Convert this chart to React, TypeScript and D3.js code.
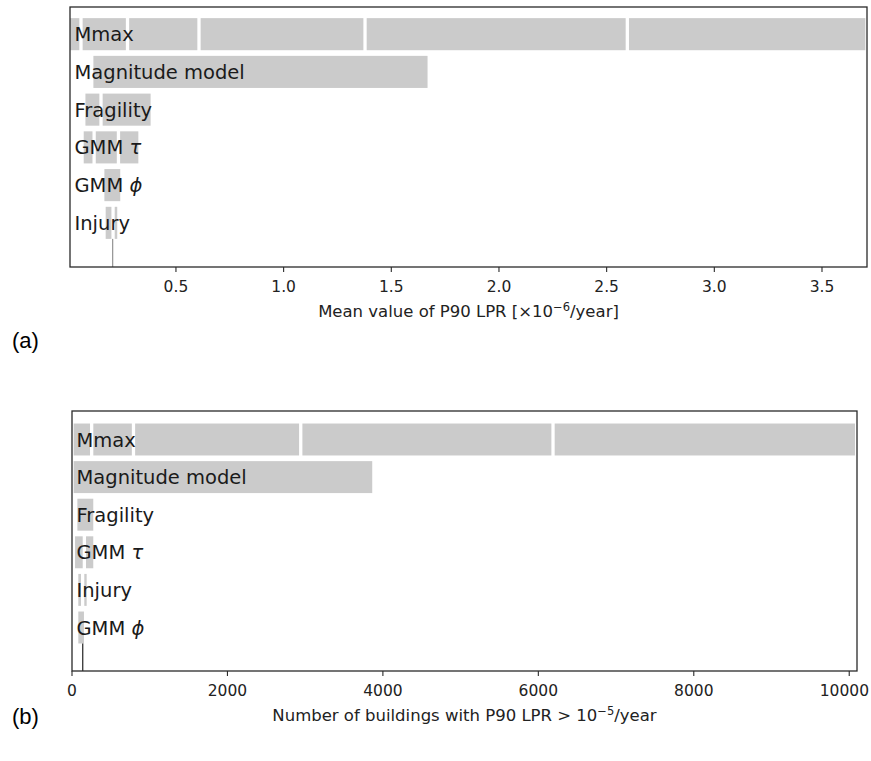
import React from "react";
import * as d3 from "d3";

// ---------- Data ----------
const rowsA = ["Mmax", "Magnitude model", "Fragility", "GMM τ", "GMM φ", "Injury"];
const segmentsA: number[][] = [
  [0.0, 0.059, 0.275, 0.607, 1.378, 2.596, 3.709],
  [0.109, 1.676],
  [0.072, 0.152, 0.39],
  [0.064, 0.12, 0.233, 0.333],
  [0.16, 0.249],
  [0.166, 0.208, 0.235],
];
const baselineA = 0.206;
const ticksA = [0.5, 1.0, 1.5, 2.0, 2.5, 3.0, 3.5];
const xDomainA = [0.008, 3.709];

const rowsB = ["Mmax", "Magnitude model", "Fragility", "GMM τ", "Injury", "GMM φ"];
const segmentsB: number[][] = [
  [0, 253, 791, 2943, 6189, 10095],
  [0, 3884],
  [48, 295],
  [18, 159, 295],
  [60, 137, 210],
  [60, 175],
];
const baselineB = 138;
const ticksB = [0, 2000, 4000, 6000, 8000, 10000];
const xDomainB = [0, 10100];

// ---------- Styling ----------
const FONT = "'DejaVu Sans', sans-serif";
const BAR = "#cbcbcb";
const GAP = 1.65;
const TICK_FS = 15.5;

type PanelProps = {
  id: string;
  rows: string[];
  segments: number[][];
  baseline: number;
  ticks: number[];
  xDomain: number[];
  left: number;
  right: number;
  top: number;
  bottom: number;
  yDomain: [number, number];
  tickFmt: (v: number) => string;
  title: React.ReactNode;
  lineColor: string;
};

function Label({ name, x, y }: { name: string; x: number; y: number }) {
  const greek = /[τφ]$/.test(name);
  const base = greek ? name.slice(0, -1) : name;
  const g = greek ? name.slice(-1) : "";
  const gChar = g === "φ" ? "ϕ" : g;
  return (
    <text x={x} y={y} dy="0.36em" fontFamily={FONT} fontSize={19.5} fill="#1a1a1a">
      {base}
      {greek && <tspan fontStyle="italic">{gChar}</tspan>}
    </text>
  );
}

function Panel(p: PanelProps) {
  const x = d3.scaleLinear().domain(p.xDomain).range([p.left, p.right]);
  const y = d3.scaleLinear().domain(p.yDomain).range([p.top, p.bottom]);
  const bh = y(0.425) - y(0);
  const lastIdx = p.rows.length - 1;
  return (
    <g>
      <defs>
        <clipPath id={`clip-${p.id}`}>
          <rect x={p.left} y={p.top} width={p.right - p.left} height={p.bottom - p.top} />
        </clipPath>
      </defs>
      <g clipPath={`url(#clip-${p.id})`}>
        {p.segments.map((seg, i) =>
          seg.slice(0, -1).map((v, j) => {
            const x0 = x(v) + GAP;
            const x1 = x(seg[j + 1]) - GAP;
            return (
              <rect
                key={`${i}-${j}`}
                x={x0}
                y={y(i) - bh}
                width={Math.max(0, x1 - x0)}
                height={bh * 2}
                fill={BAR}
              />
            );
          })
        )}
        <line
          x1={x(p.baseline)}
          x2={x(p.baseline)}
          y1={y(lastIdx) + bh}
          y2={p.bottom}
          stroke={p.lineColor}
          strokeWidth={1.3}
        />
      </g>
      {p.rows.map((r, i) => (
        <Label key={r} name={r} x={p.left + 4.5} y={y(i)} />
      ))}
      <rect
        x={p.left}
        y={p.top}
        width={p.right - p.left}
        height={p.bottom - p.top}
        fill="none"
        stroke="#2a2a2a"
        strokeWidth={1.3}
      />
      {p.ticks.map((t) => {
        const label = p.tickFmt(t);
        const halfW = label.length * 0.636 * TICK_FS * 0.5;
        const overflow = x(t) + halfW > 869;
        return (
          <g key={t}>
            <line x1={x(t)} x2={x(t)} y1={p.bottom} y2={p.bottom + 5} stroke="#2a2a2a" strokeWidth={1.1} />
            <text
              x={overflow ? 869 : x(t)}
              y={p.bottom + 25}
              textAnchor={overflow ? "end" : "middle"}
              fontFamily={FONT}
              fontSize={TICK_FS}
              fill="#222"
            >
              {label}
            </text>
          </g>
        );
      })}
      <text
        x={(p.left + p.right) / 2}
        y={p.bottom + 50}
        textAnchor="middle"
        fontFamily={FONT}
        fontSize={16.5}
        fill="#222"
      >
        {p.title}
      </text>
    </g>
  );
}

export default function App() {
  return (
    <svg
      width={871}
      height={761}
      style={{ position: "absolute", left: 0, top: 0, background: "#fff" }}
    >
      <rect width={871} height={761} fill="#fff" />
      <Panel
        id="a"
        rows={rowsA}
        segments={segmentsA}
        baseline={baselineA}
        ticks={ticksA}
        xDomain={xDomainA}
        left={70}
        right={867}
        top={7}
        bottom={267}
        yDomain={[-0.72, 6.17]}
        tickFmt={(v) => v.toFixed(1)}
        lineColor="#999"
        title={
          <>
            Mean value of P90 LPR [×10
            <tspan dy={-6.5} fontSize={11.5}>−6</tspan>
            <tspan dy={6.5}>/year]</tspan>
          </>
        }
      />
      <Panel
        id="b"
        rows={rowsB}
        segments={segmentsB}
        baseline={baselineB}
        ticks={ticksB}
        xDomain={xDomainB}
        left={72}
        right={857}
        top={411}
        bottom={671}
        yDomain={[-0.758, 6.157]}
        tickFmt={(v) => String(v)}
        lineColor="#333"
        title={
          <>
            Number of buildings with P90 LPR &gt; 10
            <tspan dy={-6.5} fontSize={11.5}>−5</tspan>
            <tspan dy={6.5}>/year</tspan>
          </>
        }
      />
      <text x={12} y={348} fontFamily="'Liberation Sans', Arial, sans-serif" fontSize={22} fill="#000">
        (a)
      </text>
      <text x={12} y={724} fontFamily="'Liberation Sans', Arial, sans-serif" fontSize={22} fill="#000">
        (b)
      </text>
    </svg>
  );
}
